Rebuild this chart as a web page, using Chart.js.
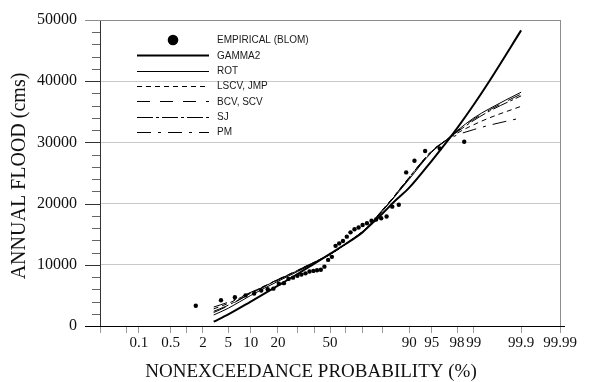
<!DOCTYPE html>
<html>
<head>
<meta charset="utf-8">
<script src="https://cdn.jsdelivr.net/npm/chart.js@4/dist/chart.umd.min.js"></script>
<style>
  html, body { margin: 0; padding: 0; background: #fff; }
  canvas { display: block; }
</style>
</head>
<body>
<canvas id="chartOfFlood" width="589" height="382"></canvas>
<script>
// ranked annual floods with Blom plotting positions (%)
const empiricalProb = [1.5, 3.9, 6.2, 8.6, 11.0, 13.3, 15.7, 18.0, 20.4, 22.8, 25.1, 27.5, 29.9, 32.2, 34.6, 37.0, 39.4, 41.7, 44.1, 46.4, 48.8, 51.2, 53.6, 55.9, 58.3, 60.7, 63.0, 65.4, 67.8, 70.1, 72.5, 74.9, 77.2, 79.6, 82.0, 84.3, 86.7, 89.1, 91.4, 93.8, 96.2, 98.5];
const empiricalFlood = [3300, 4200, 4700, 5000, 5300, 5800, 6000, 6100, 6900, 7000, 7700, 7900, 8200, 8400, 8600, 8900, 9000, 9100, 9200, 9700, 10800, 11300, 13100, 13500, 13900, 14600, 15300, 15800, 16100, 16500, 16800, 17200, 17400, 17600, 17900, 19500, 19800, 25100, 27000, 28600, 29000, 30100];

// fitted quantile curves (%)
const curveProb = [3, 5, 10, 20, 30, 40, 50, 60, 70, 75, 80, 85, 90, 95, 97, 98, 99, 99.5, 99.9];
const gamma2 = [700, 1900, 4000, 6600, 8500, 10200, 11800, 13400, 15300, 16700, 18300, 20300, 22600, 27000, 30000, 32300, 36200, 40000, 48300];
const rot = [1800, 2900, 5000, 7300, 8900, 10300, 11700, 13400, 15400, 16800, 18700, 21000, 24000, 28400, 30400, 31900, 34000, 35500, 38200];
const lscvJmp = [2800, 3700, 5450, 7600, 9100, 10450, 11700, 13400, 15400, 16900, 18900, 21200, 24300, 28600, 30400, 31500, 32900, 34000, 35900];
const bcvScv = [2200, 3300, 5300, 7500, 9000, 10400, 11700, 13400, 15400, 16800, 18800, 21100, 24200, 28500, 30400, 31800, 33800, 35300, 37900];
const sj = [2400, 3400, 5350, 7550, 9050, 10400, 11700, 13400, 15400, 16800, 18800, 21100, 24200, 28500, 30400, 31700, 33600, 35100, 37600];
const pm = [3100, 3900, 5500, 7600, 9100, 10450, 11700, 13400, 15400, 16900, 18900, 21200, 24300, 28600, 30300, 31200, 32100, 32800, 34000];

// probability axis
const xTickProbs = [0.01, 0.05, 0.1, 0.5, 1, 2, 5, 10, 20, 30, 40, 50, 60, 70, 80, 90, 95, 98, 99, 99.9, 99.99];
const xTickLabels = ["", "", "0.1", "0.5", "", "2", "5", "10", "20", "", "", "50", "", "", "", "90", "95", "98", "99", "99.9", "99.99"];

const SERIF = '"Liberation Serif", "Times New Roman", serif';
const SANS = '"Liberation Sans", Arial, sans-serif';

// inverse standard normal (Acklam) -> normal probability paper
function probToZ(pct) {
  const p = pct / 100;
  const a = [-3.969683028665376e+01, 2.209460984245205e+02, -2.759285104469687e+02, 1.383577518672690e+02, -3.066479806614716e+01, 2.506628277459239e+00];
  const b = [-5.447609879822406e+01, 1.615858368580409e+02, -1.556989798598866e+02, 6.680131188771972e+01, -1.328068155288572e+01];
  const c = [-7.784894002430293e-03, -3.223964580411365e-01, -2.400758277161838e+00, -2.549732539343734e+00, 4.374664141464968e+00, 2.938163982698783e+00];
  const d = [7.784695709041462e-03, 3.224671290700398e-01, 2.445134137142996e+00, 3.754408661907416e+00];
  const pLow = 0.02425;
  let q, r;
  if (p < pLow) {
    q = Math.sqrt(-2 * Math.log(p));
    return (((((c[0] * q + c[1]) * q + c[2]) * q + c[3]) * q + c[4]) * q + c[5]) /
      ((((d[0] * q + d[1]) * q + d[2]) * q + d[3]) * q + 1);
  }
  if (p > 1 - pLow) {
    q = Math.sqrt(-2 * Math.log(1 - p));
    return -(((((c[0] * q + c[1]) * q + c[2]) * q + c[3]) * q + c[4]) * q + c[5]) /
      ((((d[0] * q + d[1]) * q + d[2]) * q + d[3]) * q + 1);
  }
  q = p - 0.5;
  r = q * q;
  return (((((a[0] * r + a[1]) * r + a[2]) * r + a[3]) * r + a[4]) * r + a[5]) * q /
    (((((b[0] * r + b[1]) * r + b[2]) * r + b[3]) * r + b[4]) * r + 1);
}

function toPoints(probs, values) {
  return probs.map((p, i) => ({ x: probToZ(p), y: values[i] }));
}

function curve(label, values, width, dash) {
  return {
    label: label,
    data: toPoints(curveProb, values),
    showLine: true,
    borderColor: "#000",
    borderWidth: width,
    borderDash: dash,
    pointRadius: 0,
    cubicInterpolationMode: "monotone",
    fill: false,
  };
}

const datasets = [
  {
    label: "EMPIRICAL (BLOM)",
    data: toPoints(empiricalProb, empiricalFlood),
    showLine: false,
    pointRadius: 2.2,
    pointBackgroundColor: "#000",
    pointBorderColor: "#000",
    pointBorderWidth: 0,
  },
  curve("GAMMA2", gamma2, 2, []),
  curve("ROT", rot, 1, []),
  curve("LSCV, JMP", lscvJmp, 1, [5, 4]),
  curve("BCV, SCV", bcvScv, 1, [13, 10]),
  curve("SJ", sj, 1, [16, 3, 3, 3]),
  curve("PM", pm, 1, [14, 7, 3, 7]),
];

// ticks, frame pieces, legend and axis titles
const probabilityPaper = {
  id: "probabilityPaper",
  afterDraw(chart) {
    const { ctx, chartArea: a, scales } = chart;
    const yScale = scales.y;
    ctx.save();

    // y ticks: long at 10000, short every 2000
    ctx.lineWidth = 1;
    for (let v = 0; v <= 50000; v += 2000) {
      const py = Math.round(yScale.getPixelForValue(v)) + 0.5;
      const major = v % 10000 === 0;
      ctx.strokeStyle = major ? "#333" : "#666";
      ctx.beginPath();
      ctx.moveTo(a.left - (major ? 15 : 8), py);
      ctx.lineTo(a.left, py);
      ctx.stroke();
    }

    // top and right frame in grey
    ctx.strokeStyle = "#8c8c8c";
    ctx.beginPath();
    ctx.moveTo(a.left - 15, Math.round(a.top) + 0.5);
    ctx.lineTo(a.right, Math.round(a.top) + 0.5);
    ctx.moveTo(Math.round(a.right) + 0.5, a.top);
    ctx.lineTo(Math.round(a.right) + 0.5, a.bottom);
    ctx.stroke();

    // bottom axis runs a little past both ends
    ctx.strokeStyle = "#000";
    ctx.beginPath();
    ctx.moveTo(a.left - 15, Math.round(a.bottom) + 0.5);
    ctx.lineTo(a.right + 5, Math.round(a.bottom) + 0.5);
    ctx.stroke();

    // legend
    const lx0 = 137, lx1 = 209, tx = 217;
    ctx.font = "10px " + SANS;
    ctx.textBaseline = "middle";
    ctx.textAlign = "left";
    chart.data.datasets.forEach((ds, i) => {
      const ly = 40 + i * 15.35;
      if (ds.showLine === false) {
        ctx.fillStyle = "#000";
        ctx.beginPath();
        ctx.arc(173, ly, 5.3, 0, Math.PI * 2);
        ctx.fill();
      } else {
        ctx.strokeStyle = "#000";
        ctx.lineWidth = ds.borderWidth;
        ctx.setLineDash(ds.borderDash);
        ctx.beginPath();
        ctx.moveTo(lx0, Math.round(ly) + 0.5);
        ctx.lineTo(lx1, Math.round(ly) + 0.5);
        ctx.stroke();
        ctx.setLineDash([]);
      }
      ctx.fillStyle = "#1a1a1a";
      ctx.fillText(ds.label, tx, ly + 0.5);
    });

    // axis titles
    ctx.fillStyle = "#111";
    ctx.textAlign = "center";
    ctx.font = "19px " + SERIF;
    ctx.fillText("NONEXCEEDANCE PROBABILITY (%)", 311, 372);
    ctx.save();
    ctx.translate(20, 176);
    ctx.rotate(-Math.PI / 2);
    ctx.font = "20px " + SERIF;
    ctx.fillText("ANNUAL FLOOD (cms)", 0, 0);
    ctx.restore();

    ctx.restore();
  },
};

const chart = new Chart(document.getElementById("chartOfFlood").getContext("2d"), {
  type: "scatter",
  data: { datasets: datasets },
  options: {
    responsive: false,
    animation: false,
    devicePixelRatio: 1,
    layout: { padding: { top: 20, right: 29, left: 0, bottom: 0 } },
    plugins: { legend: { display: false }, tooltip: { enabled: false } },
    scales: {
      x: {
        type: "linear",
        min: probToZ(xTickProbs[0]),
        max: probToZ(xTickProbs[xTickProbs.length - 1]),
        afterBuildTicks: (scale) => {
          scale.ticks = xTickProbs.map((p) => ({ value: probToZ(p) }));
        },
        afterFit: (scale) => { scale.height = 56; },
        border: { display: false },
        grid: {
          drawOnChartArea: false,
          drawTicks: true,
          tickLength: 7,
          tickColor: "#9a9a9a",
        },
        ticks: {
          autoSkip: false,
          maxRotation: 0,
          padding: 1,
          color: "#111",
          font: { family: SERIF, size: 15 },
          callback: (value, index) => xTickLabels[index],
        },
      },
      y: {
        min: 0,
        max: 50000,
        afterFit: (scale) => { scale.width = 100; },
        border: { color: "#333", width: 1 },
        grid: {
          color: (c) => (c.tick && c.tick.value % 10000 === 0 && c.tick.value > 0 && c.tick.value < 50000) ? "#c8c8c8" : "transparent",
          drawTicks: true,
          tickLength: 14,
          tickColor: "transparent",
        },
        ticks: {
          stepSize: 2000,
          autoSkip: false,
          padding: 9,
          color: "#111",
          font: { family: SERIF, size: 16 },
          callback: (value) => (value % 10000 === 0 ? String(value) : ""),
        },
      },
    },
  },
  plugins: [probabilityPaper],
});
</script>
</body>
</html>
